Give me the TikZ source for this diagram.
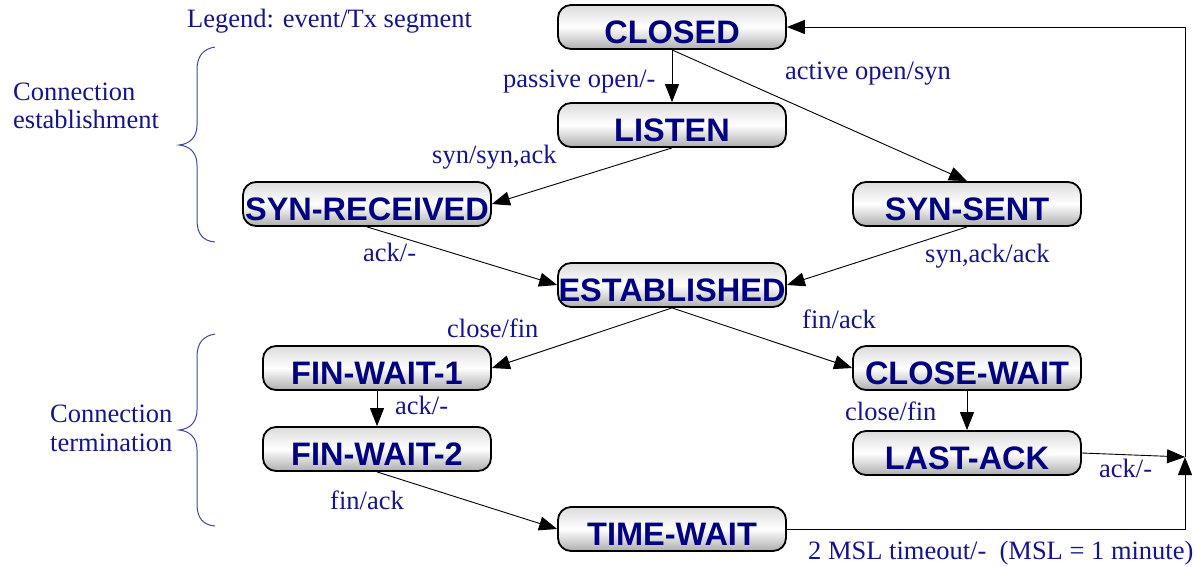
\documentclass[tikz,border=0pt]{standalone}
\usepackage{fontspec}
\setmainfont{Liberation Serif}
\newfontfamily\statefont{Liberation Sans}
\usetikzlibrary{arrows.meta}
\definecolor{navy}{RGB}{0,0,128}
\definecolor{lblblue}{RGB}{20,20,140}
\definecolor{bracecol}{RGB}{60,70,170}
\tikzset{
  statebox/.style={draw=black, line width=1.8pt, rounded corners=13pt,
    minimum width=228pt, minimum height=44pt, inner sep=0pt,
    text height=32pt, text depth=0pt,
    top color=black!14, bottom color=black!32, middle color=white,
    text=navy, font=\statefont\bfseries\fontsize{32.5}{32}\selectfont},
  lbl/.style={text=lblblue, font=\fontsize{26.5}{28}\selectfont, inner sep=0pt, anchor=base west},
  tr/.style={-{Triangle[length=18pt,width=14pt]}, line width=0.9pt},
  bracepath/.style={draw=bracecol, line width=1pt}
}
\begin{document}
\begin{tikzpicture}[x=1pt,y=-1pt]
\useasboundingbox (0,0) rectangle (1196,566);
% states
\node[statebox] (closed) at (672,27) {CLOSED};
\node[statebox] (listen) at (672,125) {LISTEN};
\node[statebox, minimum width=248pt] (synrcvd) at (367,204) {SYN-RECEIVED};
\node[statebox] (synsent) at (967,204) {SYN-SENT};
\node[statebox] (estab) at (672,285) {ESTABLISHED};
\node[statebox] (fw1) at (377,368) {FIN-WAIT-1};
\node[statebox] (closewait) at (967,368) {CLOSE-WAIT};
\node[statebox] (fw2) at (377,449) {FIN-WAIT-2};
\node[statebox] (lastack) at (967,453) {LAST-ACK};
\node[statebox] (timewait) at (672,529) {TIME-WAIT};
\coordinate (j) at (1185,457);
% transitions
\draw[tr] (closed) -- (listen);
\draw[tr] (closed.south) -- (synsent.north);
\draw[tr] (listen.south) -- (synrcvd.east);
\draw[tr] (synrcvd.south) -- (estab.west);
\draw[tr] (synsent.south) -- (estab.east);
\draw[tr] (estab.south) -- (fw1.east);
\draw[tr] (estab.south) -- (closewait.west);
\draw[tr] (fw1) -- (fw2);
\draw[tr] (closewait) -- (lastack);
\draw[tr] (fw2.south) -- (timewait.west);
\draw[tr] (lastack.east) -- (j);
\draw[tr] (timewait.east) -| (j);
\draw[tr] (j) |- (closed.east);
% labels
\node[lbl] (legend) at (187,27) {Legend: event/Tx segment};
\node[lbl] (ce1) at (13,100) {Connection};
\node[lbl] (ce2) at (13,128) {establishment};
\node[lbl] (ct1) at (50,422) {Connection};
\node[lbl] (ct2) at (50,451) {termination};
\node[lbl] (l1) at (503,87) {passive open/-};
\node[lbl] (l2) at (785,79) {active open/syn};
\node[lbl] (l3) at (432,163) {syn/syn,ack};
\node[lbl] (l4) at (363,261) {ack/-};
\node[lbl] (l5) at (925,262) {syn,ack/ack};
\node[lbl] (l6) at (447,337) {close/fin};
\node[lbl] (l7) at (802,328) {fin/ack};
\node[lbl] (l8) at (395,414) {ack/-};
\node[lbl] (l9) at (845,420) {close/fin};
\node[lbl] (l10) at (330,509) {fin/ack};
\node[lbl] (l11) at (1099,477) {ack/-};
\node[lbl] (l12) at (808,559) {2 MSL timeout/-\ \ (MSL = 1 minute)};
% braces
\draw[bracepath] (215,47) .. controls (203,49) and (197,56) .. (197,70) -- (197,125)
  .. controls (197,137) and (190,144) .. (179,145)
  .. controls (190,146) and (197,153) .. (197,165) -- (197,220)
  .. controls (197,234) and (203,241) .. (215,242);
\draw[bracepath] (215,334) .. controls (203,336) and (197,343) .. (197,357) -- (197,410)
  .. controls (197,422) and (190,429) .. (179,430)
  .. controls (190,431) and (197,438) .. (197,450) -- (197,504)
  .. controls (197,518) and (203,525) .. (215,526);
\end{tikzpicture}
\end{document}
